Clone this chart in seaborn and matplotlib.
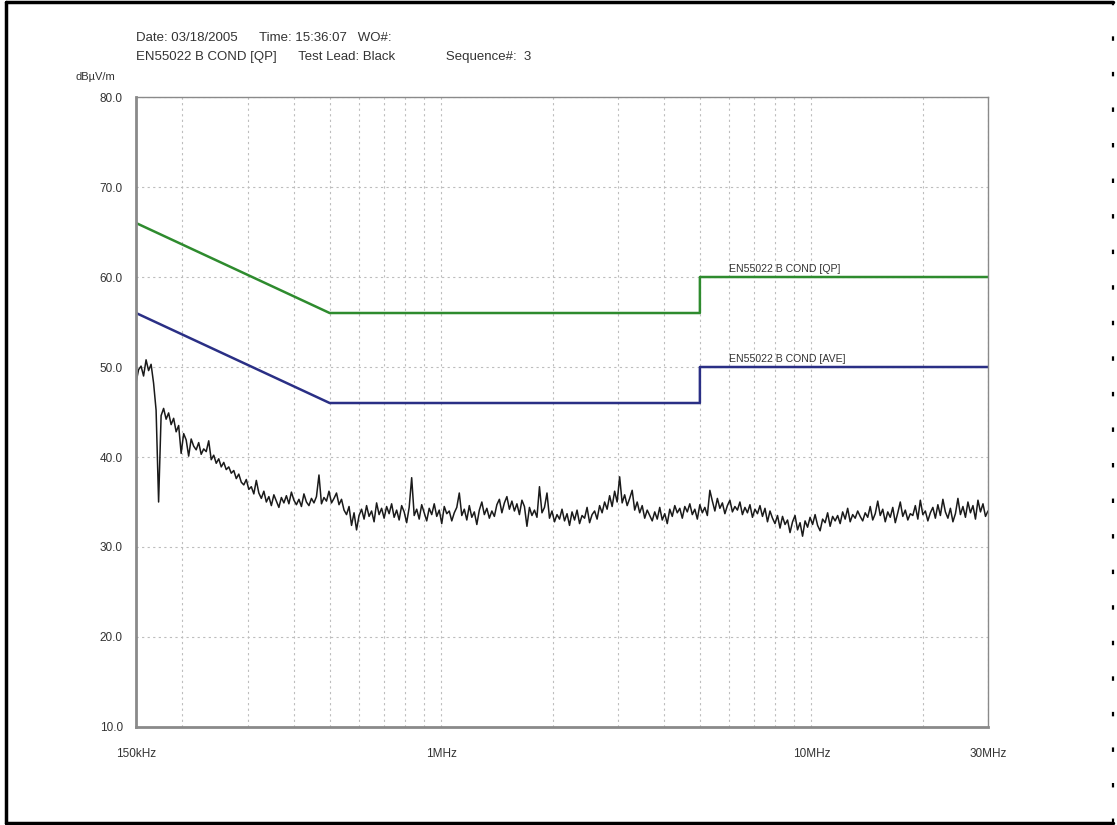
import numpy as np
import pandas as pd
import matplotlib
matplotlib.use("Agg")
import matplotlib.pyplot as plt
import matplotlib.ticker as mticker
from matplotlib.lines import Line2D
import seaborn as sns

# Limites EN55022 classe B (MHz, dBuV/m)
qp_freq = [0.15, 0.5, 5.0, 5.0, 30.0]
qp_level = [66.0, 56.0, 56.0, 60.0, 60.0]
ave_freq = [0.15, 0.5, 5.0, 5.0, 30.0]
ave_level = [56.0, 46.0, 46.0, 50.0, 50.0]

trace = [
    48.3, 49.7, 50.1, 49.0, 50.8, 49.6, 50.3, 48.2, 45.2, 35.0,
    44.6, 45.4, 44.2, 44.9, 43.6, 44.3, 42.8, 43.5, 40.4, 42.6,
    41.9, 40.1, 42.0, 41.2, 40.8, 41.6, 40.3, 40.9, 40.6, 41.8,
    39.7, 40.2, 39.3, 39.8, 38.9, 39.4, 38.6, 38.9, 38.2, 38.5,
    37.6, 38.1, 37.2, 36.9, 37.5, 36.4, 36.7, 35.9, 37.4, 36.0,
    35.4, 36.2, 35.0, 35.6, 34.6, 35.8, 35.1, 34.4, 35.5, 34.9,
    35.7, 34.8, 36.1, 35.2, 34.7, 35.3, 34.5, 35.9, 35.0, 34.6,
    35.4, 34.9, 35.6, 38.0, 34.8, 35.5, 35.1, 36.2, 34.9, 35.4,
    36.0, 34.7, 35.3, 34.1, 33.6, 34.5, 32.4, 33.8, 31.9, 33.5,
    34.2, 33.1, 34.6, 33.4, 34.0, 32.8, 34.9, 33.6, 34.3, 33.2,
    34.5, 33.7, 34.8, 33.3, 34.1, 33.0, 34.6, 33.9, 32.7, 34.4,
    37.7, 33.5, 34.2, 33.1, 34.7, 33.8, 32.9, 34.3, 33.6, 34.8,
    33.4, 34.1, 32.6, 34.5, 33.7, 34.0, 32.9, 33.8, 34.4, 36.0,
    33.5, 34.2, 33.0, 34.6, 33.3, 33.9, 32.5, 34.1, 35.0, 33.6,
    34.3, 33.2, 34.0, 33.4, 34.7, 35.3, 33.8, 34.9, 35.6, 34.2,
    35.1, 34.0, 34.8, 33.6, 35.2, 34.5, 32.3, 34.4, 33.5, 34.1,
    33.3, 36.7, 33.8, 34.4, 36.0, 33.2, 34.0, 32.8, 33.6, 33.1,
    34.2, 32.9, 33.7, 32.4, 33.9, 33.0, 34.1, 32.6, 33.5, 33.2,
    34.4, 32.7, 33.6, 34.0, 33.1, 34.6, 33.8, 35.0, 34.2, 35.7,
    34.5, 36.2, 35.0, 37.8, 34.9, 35.8, 34.6, 35.4, 36.3, 34.1,
    35.0, 33.8, 34.6, 33.2, 34.1, 33.5, 32.9, 33.9, 33.1, 34.4,
    33.0, 33.7, 32.6, 34.2, 33.4, 34.6, 33.8, 34.3, 33.2, 34.5,
    33.9, 34.8, 33.6, 34.2, 33.1, 34.7, 33.8, 34.4, 33.5, 36.3,
    35.1, 34.0, 35.4, 34.3, 34.9, 33.7, 34.6, 35.2, 33.9, 34.5,
    34.1, 35.0, 33.6, 34.4, 33.8, 34.7, 33.3, 34.2, 33.7, 34.6,
    33.4, 34.3, 32.8, 34.0, 33.2, 32.6, 33.5, 32.1, 33.4, 32.5,
    33.0, 31.6, 32.8, 33.5, 31.9, 32.7, 31.2, 32.9, 32.2, 33.3,
    32.5, 33.6, 32.4, 31.8, 33.1, 32.7, 33.8, 32.3, 33.4, 32.9,
    33.5, 32.6, 33.9, 33.1, 34.3, 32.8, 33.6, 33.2, 34.0, 33.4,
    32.9, 33.8, 33.3, 34.5, 33.0, 33.7, 35.1, 33.5, 34.2, 32.8,
    33.9, 33.3, 34.4, 32.7, 33.8, 35.0, 33.4, 34.1, 33.0, 33.7,
    33.5, 34.6, 33.1, 35.2, 33.6, 34.0, 32.9, 33.8, 34.4, 33.2,
    34.7, 33.5, 35.3, 33.9, 33.2, 34.3, 32.8, 33.7, 35.4, 33.6,
    34.5, 33.3, 35.0, 33.8, 34.6, 33.1, 35.2, 33.9, 34.8, 33.4, 34.0,
]
f_start, f_stop = 0.15, 30.0

y_ticks = [10, 20, 30, 40, 50, 60, 70, 80]
x_ticks = [0.15, 1.0, 10.0, 30.0]
x_tick_labels = ["150kHz", "1MHz", "10MHz", "30MHz"]

df_trace = pd.DataFrame({"freq": np.geomspace(f_start, f_stop, len(trace)), "level": trace})
df_qp = pd.DataFrame({"freq": qp_freq, "level": qp_level})
df_ave = pd.DataFrame({"freq": ave_freq, "level": ave_level})

sns.set_style("white")
plt.rcParams["font.family"] = ["Liberation Sans", "DejaVu Sans"]

fig = plt.figure(figsize=(11.17, 8.25), dpi=100)
ax = fig.add_axes([0.1218, 0.1188, 0.7627, 0.7636])

sns.lineplot(data=df_trace, x="freq", y="level", color="#1a1a1a", lw=1.1,
             sort=False, estimator=None, legend=False, ax=ax)
sns.lineplot(data=df_qp, x="freq", y="level", color="#2e8b2e", lw=1.8,
             sort=False, estimator=None, legend=False, ax=ax)
sns.lineplot(data=df_ave, x="freq", y="level", color="#2a2f85", lw=1.8,
             sort=False, estimator=None, legend=False, ax=ax)

ax.set_xscale("log")
ax.set_xlim(f_start, f_stop)
ax.set_ylim(10, 80)
ax.set_yticks(y_ticks)
ax.set_yticklabels([f"{v:.1f}" for v in y_ticks])
ax.set_xticks(x_ticks)
ax.set_xticklabels(x_tick_labels)
ax.xaxis.set_minor_locator(mticker.LogLocator(base=10, subs=np.arange(2, 10)))
ax.xaxis.set_minor_formatter(mticker.NullFormatter())
ax.set_xlabel("")
ax.set_ylabel("")

ax.grid(True, which="both", axis="x", color="#bdbdbd", ls=(0, (2, 3)), lw=0.8)
ax.grid(True, which="major", axis="y", color="#bdbdbd", ls=(0, (2, 3)), lw=0.8)
ax.set_axisbelow(True)

for s in ax.spines.values():
    s.set_color("#8a8a8a")
    s.set_linewidth(1.0)
ax.spines["left"].set_linewidth(2.0)
ax.spines["bottom"].set_linewidth(2.0)
ax.tick_params(axis="both", which="major", labelsize=8.5, colors="#333333",
               length=6, width=1, direction="out")
ax.tick_params(axis="x", which="minor", length=0)
ax.tick_params(axis="x", which="major", pad=6, length=9)

ax.text(6.0, 60.6, "EN55022 B COND [QP]", fontsize=7.6, color="#333333")
ax.text(6.0, 50.6, "EN55022 B COND [AVE]", fontsize=7.6, color="#333333")

fig.text(136 / 1117, 1 - 38 / 825, "Date: 03/18/2005      Time: 15:36:07   WO#:",
         fontsize=9.5, color="#333333", va="center")
fig.text(136 / 1117, 1 - 57 / 825,
         "EN55022 B COND [QP]      Test Lead: Black              Sequence#:  3",
         fontsize=9.5, color="#333333", va="center")
fig.text(75 / 1117, 1 - 77 / 825, "dBµV/m", fontsize=8, color="#333333", va="center")

# moldura da pagina
for xs, ys, style, w in [([0.005, 0.005], [0.003, 0.997], "-", 2.5),
                         ([0.005, 0.996], [0.997, 0.997], "-", 2.5),
                         ([0.005, 0.996], [0.003, 0.003], "-", 2.5),
                         ([0.996, 0.996], [0.003, 0.997], (0, (2, 14)), 1.6)]:
    fig.add_artist(Line2D(xs, ys, transform=fig.transFigure, color="black",
                          lw=w, ls=style))

fig.savefig("out.png", dpi=100, facecolor="white")
